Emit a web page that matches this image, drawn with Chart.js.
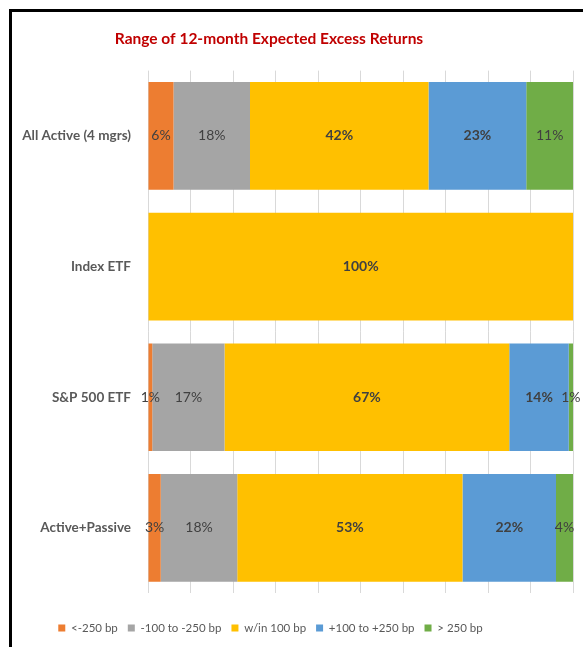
<!DOCTYPE html>
<html>
<head>
<meta charset="utf-8">
<script src="https://cdn.jsdelivr.net/npm/chart.js@4/dist/chart.umd.min.js"></script>
<style>
    body { margin: 0; background: #fff; }
    #wrap { position: relative; width: 583px; height: 647px; }
    #frame { position: absolute; left: 9px; top: 9px; right: 0; bottom: 0; border-left: 3px solid #000; border-top: 3px solid #000; }
    #rangeChart { position: absolute; left: 0; top: 0; }
</style>
</head>
<body>
<div id="wrap">
    <div id="frame"></div>
    <canvas id="rangeChart" width="583" height="647"></canvas>
</div>
<script>
const categories = ['All Active (4 mgrs)', 'Index ETF', 'S&P 500 ETF', 'Active+Passive'];
const seriesNames = ['<-250 bp', '-100 to -250 bp', 'w/in 100 bp', '+100 to +250 bp', '> 250 bp'];
const below250 = [6, 0, 1, 3];
const minus100to250 = [18, 0, 17, 18];
const within100 = [42, 100, 67, 53];
const plus100to250 = [23, 0, 14, 22];
const above250 = [11, 0, 1, 4];

const FONT = "Lato, 'DejaVu Sans Condensed', sans-serif";
const colors = ['#ED7D31', '#A5A5A5', '#FFC000', '#5B9BD5', '#70AD47'];
const boldLabels = [false, false, true, true, false];
const allSeries = [below250, minus100to250, within100, plus100to250, above250];

// Percent labels in the middle of each segment (zeros skipped)
const segmentLabels = {
    id: 'segmentLabels',
    afterDatasetsDraw(chart) {
        const ctx = chart.ctx;
        ctx.save();
        ctx.fillStyle = '#404040';
        ctx.textAlign = 'center';
        ctx.textBaseline = 'middle';
        chart.data.datasets.forEach((ds, i) => {
            const meta = chart.getDatasetMeta(i);
            ctx.font = (boldLabels[i] ? 'bold ' : '') + '14px ' + FONT;
            meta.data.forEach((bar, j) => {
                const v = ds.data[j];
                if (!v) return;
                ctx.fillText(v + '%', (bar.x + bar.base) / 2, bar.y);
            });
        });
        ctx.restore();
    }
};

// Excel centres title and legend on its own chart box, not the plot
const shiftBlocks = {
    id: 'shiftBlocks',
    afterLayout(chart) {
        if (chart.titleBlock) { chart.titleBlock.left = 12; chart.titleBlock.right = 526; }
        if (chart.legend) { chart.legend.left = 12; chart.legend.right = 529; }
    }
};

const ctx = document.getElementById('rangeChart').getContext('2d');
new Chart(ctx, {
    type: 'bar',
    data: {
        labels: categories,
        datasets: allSeries.map((d, i) => ({
            label: seriesNames[i],
            data: d,
            backgroundColor: colors[i],
            borderWidth: 0,
            categoryPercentage: 1,
            barPercentage: 0.824
        }))
    },
    options: {
        indexAxis: 'y',
        responsive: false,
        animation: false,
        layout: { padding: { left: 12, right: 10, top: 0, bottom: 3.25 } },
        scales: {
            x: {
                stacked: true,
                min: 0,
                max: 100,
                ticks: { display: false, stepSize: 10 },
                grid: { color: '#D9D9D9', drawTicks: false },
                border: { display: false },
                afterFit(scale) { scale.height = 19; }
            },
            y: {
                stacked: true,
                grid: { display: false, drawTicks: false },
                border: { display: false },
                ticks: {
                    padding: 17,
                    color: '#595959',
                    font: { family: FONT, size: 13.5, weight: 'bold' }
                },
                afterFit(scale) { scale.width = 136; }
            }
        },
        plugins: {
            title: {
                display: true,
                text: 'Range of 12-month Expected Excess Returns',
                color: '#C00000',
                font: { family: FONT, size: 15.5, weight: 'bold', lineHeight: 1.2 },
                padding: { top: 30, bottom: 22 }
            },
            legend: {
                position: 'bottom',
                labels: {
                    boxWidth: 7,
                    boxHeight: 7,
                    padding: 10,
                    color: '#595959',
                    font: { family: FONT, size: 11.5 }
                }
            },
            tooltip: { enabled: false }
        }
    },
    plugins: [segmentLabels, shiftBlocks]
});
</script>
</body>
</html>
